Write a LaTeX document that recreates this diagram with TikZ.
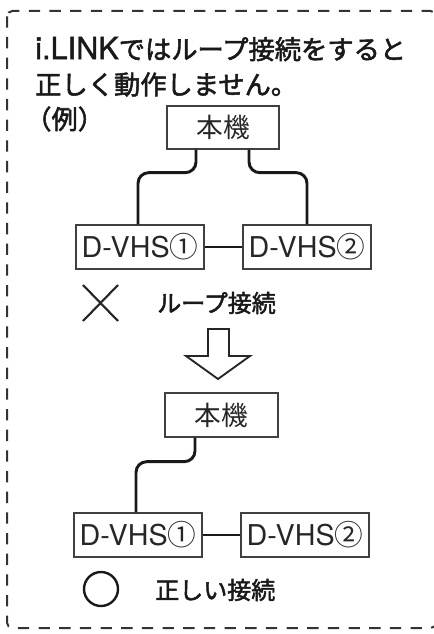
\documentclass[tikz,border=0pt]{standalone}
\usepackage{fontspec}
\newfontfamily\jpf{Noto Sans CJK JP}
\newfontfamily\jpm[FakeBold=2]{Noto Sans CJK JP}
\newfontfamily\latf{TeX Gyre Heros}
\newfontfamily\latm[FakeBold=1.5]{TeX Gyre Heros}
\tikzset{
  devbox/.style={draw=black!75, line width=1pt, inner sep=0pt, text=black!85},
  latbox/.style={devbox, font=\latf\fontsize{21.5}{21.5}\selectfont},
  jpbox/.style={devbox, font=\jpf\fontsize{20}{20}\selectfont},
  cable/.style={draw=black!90, line width=2.2pt, rounded corners=8pt},
  title/.style={anchor=west, inner sep=0pt, font=\jpm\fontsize{19.7}{19.7}\selectfont, text=black!90},
  label/.style={anchor=west, inner sep=0pt, font=\jpm\fontsize{18}{18}\selectfont, text=black!90},
}
\begin{document}
\begin{tikzpicture}[x=0.75pt,y=-0.75pt]
\useasboundingbox (0,0) rectangle (434,634);
\begin{scope}
\clip (0,0) rectangle (434,634);
\draw[black!80, line width=1.5pt, dash pattern=on 8.5pt off 7pt, rounded corners=4pt] (7,11) rectangle (436,628);
\end{scope}
% title
\node[title] (t1) at (35,49) {{\latm\fontsize{23}{23}\selectfont i.LINK}ではループ接続をすると};
\node[title] (t2) at (35,84.5) {正しく動作しません。};
\node[title] (t3) at (25,119) {（例）};
% top diagram
\node[jpbox, minimum width=84pt, minimum height=32.25pt] (h1) at (223,127.5) {本機};
\node[latbox, minimum width=96pt, minimum height=33pt] (a1) at (140,247) {D-VHS{\jpf ①}};
\node[latbox, minimum width=96pt, minimum height=33pt] (b1) at (307,247) {D-VHS{\jpf ②}};
\draw[cable] ([xshift=-27*0.75pt]h1.south) -- ++(0,23) -| ([xshift=-2*0.75pt]a1.north);
\draw[cable] ([xshift=26*0.75pt]h1.south) -- ++(0,23) -| (b1.north);
\draw[cable] (a1.east) -- (b1.west);
% cross + label
\draw[black!85, line width=1.6pt] (83,285) -- (118,321) (83,321) -- (118,285);
\node[label] (l1) at (157,303) {ループ接続};
% hollow arrow
\draw[black!85, line width=1.4pt, line join=miter] (208,329) -- (229,329) -- (229,356) -- (250,356) -- (218,379) -- (186,356) -- (208,356) -- cycle;
% bottom diagram
\node[jpbox, minimum width=84.75pt, minimum height=33pt] (h2) at (221.5,415) {本機};
\node[latbox, minimum width=96pt, minimum height=33pt] (a2) at (138,535) {D-VHS{\jpf ①}};
\node[latbox, minimum width=96pt, minimum height=33pt] (b2) at (305,535) {D-VHS{\jpf ②}};
\draw[cable] ([xshift=-26.5*0.75pt]h2.south) -- ++(0,24) -| ([xshift=-2*0.75pt]a2.north);
\draw[cable] (a2.east) -- (b2.west);
\draw[black!90, line width=1.8pt] (101,589) circle[radius=17];
\node[label] (l2) at (155,590) {正しい接続};
\end{tikzpicture}
\end{document}
